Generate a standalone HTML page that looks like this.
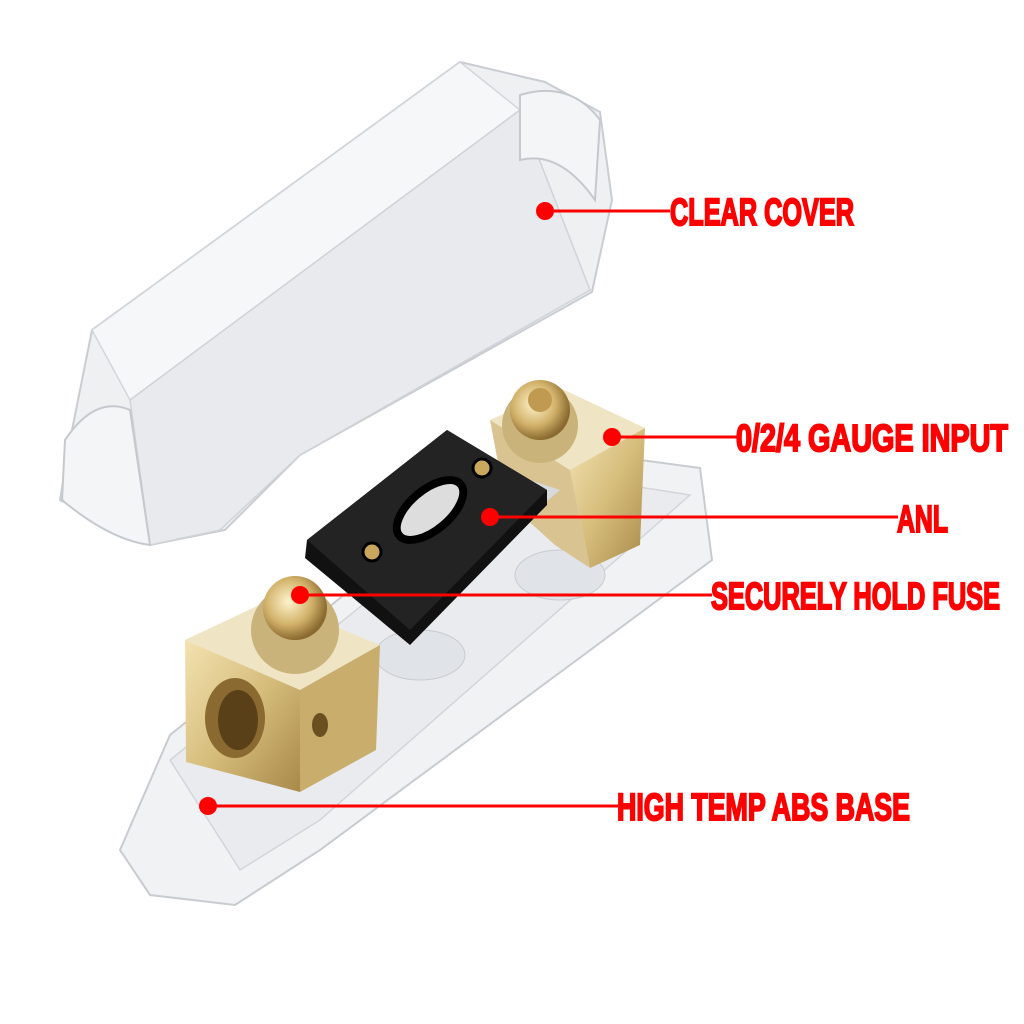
<!DOCTYPE html>
<html><head><style>html,body{margin:0;padding:0;background:#fff;width:1024px;height:1024px;overflow:hidden}</style></head>
<body>
<svg width="1024" height="1024" viewBox="0 0 1024 1024" xmlns="http://www.w3.org/2000/svg">
<defs>
<linearGradient id="gold" x1="0" y1="0" x2="1" y2="1"><stop offset="0" stop-color="#f3e2b0"/><stop offset="0.5" stop-color="#d6bd7c"/><stop offset="1" stop-color="#a8894a"/></linearGradient>
<radialGradient id="nut" cx="0.4" cy="0.4" r="0.6"><stop offset="0" stop-color="#fff4cc"/><stop offset="0.6" stop-color="#d2b26a"/><stop offset="1" stop-color="#8a6a30"/></radialGradient>
</defs>
<!-- cover -->
<polygon points="60,500 70,440 92,330 460,62 545,82 600,112 612,200 592,292 300,455 225,530 150,545" fill="#eef0f2" stroke="#c9cdd2" stroke-width="2"/>
<polygon points="92,330 460,62 520,110 130,400" fill="#f6f7f8" stroke="#d3d6da" stroke-width="1.5"/>
<polygon points="130,400 520,110 590,290 300,455 220,530 150,545" fill="#e8eaed" stroke="#d0d3d7" stroke-width="1.5"/>
<path d="M65,440 Q95,395 130,410 L150,545 Q110,540 62,500 Z" fill="#f4f5f6" stroke="#c5c9cd" stroke-width="2"/>
<path d="M520,95 Q570,80 600,120 L595,200 Q560,150 520,160 Z" fill="#f4f5f6" stroke="#c5c9cd" stroke-width="2"/>
<!-- base -->
<polygon points="120,850 170,735 530,445 700,468 712,560 320,850 235,905 150,895" fill="#f1f2f4" stroke="#c8ccd1" stroke-width="2"/>
<polygon points="170,760 530,470 690,495 320,820 240,870" fill="#e9ebee" stroke="#d2d5d9" stroke-width="1.5"/>
<ellipse cx="560" cy="575" rx="45" ry="25" fill="#e0e3e7" stroke="#c8ccd1"/>
<ellipse cx="420" cy="655" rx="45" ry="25" fill="#e0e3e7" stroke="#c8ccd1"/>
<!-- right gold block -->
<polygon points="490,420 560,388 645,428 570,470" fill="#efe4c4"/>
<polygon points="570,470 645,428 640,545 590,568" fill="url(#gold)"/>
<polygon points="490,420 570,470 590,568 555,545 505,500" fill="#d9c491"/>
<circle cx="540" cy="425" r="38" fill="#c9b37a"/>
<circle cx="540" cy="410" r="30" fill="url(#nut)"/>
<circle cx="540" cy="400" r="12" fill="#c09a50"/>
<!-- strap -->
<polygon points="360,580 500,470 560,490 420,610" fill="#d8d9dc"/>
<!-- fuse -->
<polygon points="307,540 447,430 547,490 547,505 410,645 305,558" fill="#111"/>
<polygon points="307,540 447,430 547,490 410,630" fill="#232323"/>
<ellipse cx="430" cy="510" rx="40" ry="20" transform="rotate(-40 430 510)" fill="#ddd" stroke="#000" stroke-width="8"/>
<circle cx="482" cy="468" r="9" fill="#c9a85e" stroke="#000" stroke-width="3"/>
<circle cx="372" cy="552" r="9" fill="#c9a85e" stroke="#000" stroke-width="3"/>
<!-- left gold block -->
<polygon points="185,640 270,600 380,645 300,690" fill="#efe4c4"/>
<polygon points="300,690 380,645 376,750 300,792" fill="#c8ad6c"/>
<polygon points="185,640 300,690 300,792 186,762" fill="url(#gold)"/>
<ellipse cx="235" cy="718" rx="30" ry="40" fill="#8a6a30"/>
<ellipse cx="238" cy="720" rx="20" ry="30" fill="#5a4018"/>
<ellipse cx="320" cy="725" rx="8" ry="12" fill="#6a5020"/>
<circle cx="295" cy="630" r="44" fill="#c9b37a"/>
<circle cx="295" cy="608" r="32" fill="url(#nut)"/>
<!-- callouts -->
<g fill="#ff0000" stroke="#ff0000">
<circle cx="545" cy="211" r="9" stroke="none"/><line x1="545" y1="211" x2="670" y2="211" stroke-width="3"/>
<circle cx="612" cy="437" r="9" stroke="none"/><line x1="612" y1="437" x2="737" y2="437" stroke-width="3"/>
<circle cx="490" cy="517" r="9" stroke="none"/><line x1="490" y1="517" x2="898" y2="517" stroke-width="3"/>
<circle cx="300" cy="595" r="9" stroke="none"/><line x1="300" y1="595" x2="712" y2="595" stroke-width="3"/>
<circle cx="208" cy="806" r="9" stroke="none"/><line x1="208" y1="806" x2="618" y2="806" stroke-width="3"/>
</g>
<g fill="#ff0000" font-family="'Liberation Sans Narrow','Liberation Sans',sans-serif" font-weight="bold" font-size="38" stroke="#ff0000" stroke-width="2">
<text x="670" y="225" textLength="184" lengthAdjust="spacingAndGlyphs">CLEAR COVER</text>
<text x="736" y="451" textLength="272" lengthAdjust="spacingAndGlyphs">0/2/4 GAUGE INPUT</text>
<text x="897" y="532" textLength="51" lengthAdjust="spacingAndGlyphs">ANL</text>
<text x="711" y="609" textLength="289" lengthAdjust="spacingAndGlyphs">SECURELY HOLD FUSE</text>
<text x="617" y="820" textLength="293" lengthAdjust="spacingAndGlyphs">HIGH TEMP ABS BASE</text>
</g>
</svg>
</body></html>
